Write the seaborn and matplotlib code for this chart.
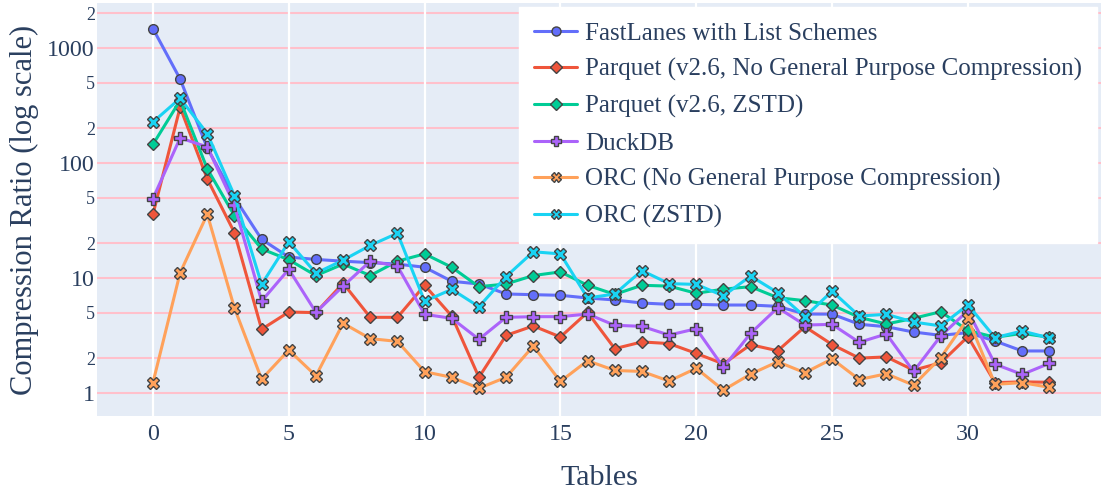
import numpy as np
import pandas as pd
import matplotlib
matplotlib.use("Agg")
import matplotlib.pyplot as plt
import seaborn as sns
from matplotlib.ticker import FixedLocator, NullLocator

tables = list(range(34))

fastlanes = [1472, 537, 135, 50, 21.7, 15.2, 14.5, 14.0, 13.6, 13.2, 12.4, 9.36, 8.87, 7.26, 7.16, 7.07,
             6.7, 6.44, 6.06, 5.9, 5.9, 5.82, 5.82, 5.67, 4.86, 4.85, 3.96, 3.77, 3.39, 3.17, 3.35, 2.83,
             2.32, 2.32]
parquet_plain = [35.8, 305, 72.6, 24.8, 3.58, 5.06, 5.0, 9.0, 4.55, 4.55, 8.64, 4.67, 1.37, 3.17, 3.83,
                 3.07, 5.03, 2.43, 2.78, 2.69, 2.21, 1.79, 2.63, 2.33, 3.77, 2.64, 2.01, 2.06, 1.58, 1.83,
                 3.09, 1.23, 1.25, 1.24]
parquet_zstd = [145, 350, 89, 34.8, 17.9, 14.4, 10.5, 13.2, 10.5, 14.0, 16.2, 12.4, 8.4, 8.87, 10.5, 11.3,
                8.64, 7.2, 8.64, 8.5, 7.36, 8.0, 8.4, 6.74, 6.35, 5.82, 4.55, 3.98, 4.46, 5.09, 3.5, 3.05,
                3.3, 3.05]
duckdb = [49, 165, 138, 43, 6.3, 11.9, 5.03, 8.5, 14.0, 12.7, 4.83, 4.46, 2.93, 4.55, 4.61, 4.61, 4.86,
          3.88, 3.80, 3.19, 3.62, 1.67, 3.30, 5.52, 3.9, 3.95, 2.76, 3.26, 1.54, 3.13, 5.2, 1.78, 1.45, 1.81]
orc_plain = [1.23, 11.1, 35.8, 5.48, 1.32, 2.36, 1.41, 4.04, 2.97, 2.81, 1.53, 1.37, 1.10, 1.37, 2.56, 1.26,
             1.91, 1.57, 1.54, 1.27, 1.64, 1.06, 1.46, 1.87, 1.50, 1.98, 1.31, 1.47, 1.17, 2.03, 4.46, 1.19,
             1.23, 1.12]
orc_zstd = [227, 365, 180, 52, 8.8, 20.6, 11.0, 14.3, 19.2, 24.5, 6.27, 7.97, 5.63, 10.3, 16.9, 16.2, 6.7,
            7.26, 11.6, 8.93, 8.8, 7.0, 10.4, 7.45, 4.6, 7.68, 4.67, 4.83, 4.14, 3.83, 5.84, 3.03, 3.46, 3.01]

series_names = [
    "FastLanes with List Schemes",
    "Parquet (v2.6, No General Purpose Compression)",
    "Parquet (v2.6, ZSTD)",
    "DuckDB",
    "ORC (No General Purpose Compression)",
    "ORC (ZSTD)",
]
series_values = [fastlanes, parquet_plain, parquet_zstd, duckdb, orc_plain, orc_zstd]
colors = ["#636EFA", "#EF553B", "#00CC96", "#AB63FA", "#FFA15A", "#19D3F3"]
marker_shapes = ["o", "D", "D", "P", "X", "X"]

ytick_values = [1, 2, 5, 10, 20, 50, 100, 200, 500, 1000, 2000]
ytick_labels = ["1", "2", "5", "10", "2", "5", "100", "2", "5", "1000", "2"]
xtick_values = [0, 5, 10, 15, 20, 25, 30]

df = pd.DataFrame({
    "Tables": np.tile(tables, len(series_names)),
    "Ratio": np.concatenate(series_values),
    "Format": np.repeat(series_names, len(tables)),
})

sns.set_style("darkgrid", {"axes.facecolor": "#E5ECF6"})
plt.rcParams["font.family"] = ["Liberation Serif", "DejaVu Serif"]
text_color = "#2A3F5F"

fig = plt.figure(figsize=(11.01, 4.91), dpi=100)
ax = fig.add_axes([97 / 1101, 1 - 416 / 491, 1004 / 1101, 413 / 491])

sns.lineplot(
    data=df, x="Tables", y="Ratio", hue="Format", style="Format",
    hue_order=series_names, style_order=series_names,
    palette=dict(zip(series_names, colors)),
    markers=dict(zip(series_names, marker_shapes)),
    dashes=False, sort=False, estimator=None,
    linewidth=2.2, markersize=8, markeredgecolor="#444444", markeredgewidth=1.0,
    ax=ax,
)
for line, shape in zip(ax.get_lines(), marker_shapes):
    if shape == "o":
        line.set_markersize(7)
    elif shape == "D":
        line.set_markersize(6.5)
    else:
        line.set_markersize(9)

ax.set_yscale("log")
ax.set_ylim(0.631, 2460)
ax.set_xlim(-2.06, 34.9)

ax.yaxis.set_major_locator(FixedLocator(ytick_values))
ax.yaxis.set_minor_locator(NullLocator())
ax.set_yticklabels(ytick_labels)
for lbl, txt in zip(ax.get_yticklabels(), ytick_labels):
    lbl.set_fontsize(17.3 if txt in ("1", "10", "100", "1000") else 13)
    lbl.set_color(text_color)
ax.set_xticks(xtick_values)
ax.set_xticklabels([str(v) for v in xtick_values], fontsize=17.3, color=text_color)
ax.tick_params(axis="y", length=0, pad=1.5)
ax.tick_params(axis="x", length=0, pad=6)

ax.grid(False)
for yv in ytick_values:
    ax.axhline(yv, color="pink", linewidth=1.5, zorder=0.5)
for xv in xtick_values:
    ax.axvline(xv, color="white", linewidth=1.6, zorder=0.6)
for s in ax.spines.values():
    s.set_visible(False)

ax.set_xlabel("Tables", fontsize=21.6, color=text_color, labelpad=14)
ax.set_ylabel("Compression Ratio (log scale)", fontsize=22, color=text_color, labelpad=6)

handles, labels = ax.get_legend_handles_labels()
leg = ax.legend(
    handles, labels, loc="upper right", bbox_to_anchor=(0.996, 0.99),
    fontsize=18, frameon=True, fancybox=False, framealpha=1.0,
    facecolor="white", edgecolor="white", borderpad=0.6, labelspacing=0.55,
    handlelength=1.75, handletextpad=0.3, borderaxespad=0,
)
for t in leg.get_texts():
    t.set_color(text_color)
for h in leg.legend_handles:
    h.set_markersize(6.5)

fig.savefig("out.png", dpi=100, facecolor="white")
